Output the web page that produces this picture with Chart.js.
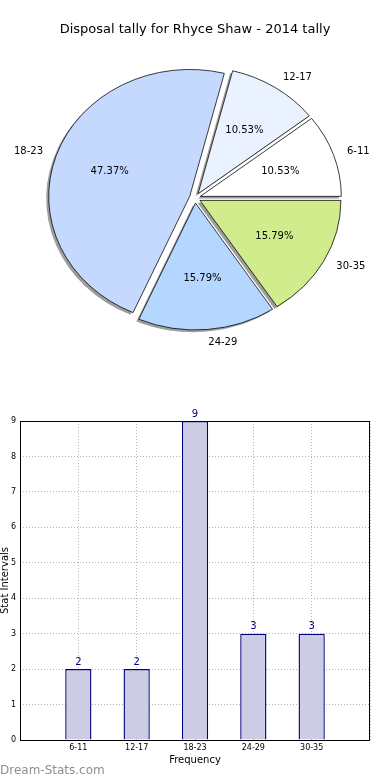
<!DOCTYPE html>
<html lang="en">
<head>
    <meta charset="UTF-8">
    <title>Disposal tally for Rhyce Shaw - 2014 tally</title>
    <script src="https://cdn.jsdelivr.net/npm/chart.js"></script>
    <style>
        body { margin: 0; background: #fff; }
        canvas { display: block; }
    </style>
</head>
<body>
    <canvas id="pieCanvas" width="390" height="390"></canvas>
    <canvas id="barCanvas" width="390" height="390"></canvas>
<script>
    const titulo = 'Disposal tally for Rhyce Shaw - 2014 tally';
    const categorias = ['6-11', '12-17', '18-23', '24-29', '30-35'];
    const valores = [2, 2, 9, 3, 3];
    const coresPizza = ['#ffffff', '#eaf1ff', '#c5d9ff', '#b5d6ff', '#d0ec8c'];
    const ticksY = [0, 1, 2, 3, 4, 5, 6, 7, 8, 9];

    const fonte = "'DejaVu Sans', sans-serif";
    const total = valores.reduce((a, b) => a + b, 0);

    // matplotlib desenha anti-horario a partir do leste, o Chart.js no sentido horario
    const catPizza = categorias.slice().reverse();
    const valPizza = valores.slice().reverse();
    const corPizza = coresPizza.slice().reverse();

    const achatar = 0.9;   // a pizza original sai um pouco eliptica
    const explode = 5.6;

    const pizzaPlugin = {
        id: 'pizzaPlugin',
        beforeDatasetDraw(chart, args) {
            const ctx = chart.ctx;
            const arcos = args.meta.data;
            const cx = arcos[0].x, cy = arcos[0].y;
            ctx.save();
            ctx.translate(cx, cy);
            ctx.scale(1, achatar);
            ctx.translate(-cx, -cy);

            // sombras
            ctx.fillStyle = 'rgba(60,60,60,0.5)';
            arcos.forEach(function (arco) {
                const meio = (arco.startAngle + arco.endAngle) / 2;
                const x = arco.x + Math.cos(meio) * explode - 2.5;
                const y = arco.y + Math.sin(meio) * explode + 2.5;
                ctx.beginPath();
                ctx.moveTo(x, y);
                ctx.arc(x, y, arco.outerRadius, arco.startAngle, arco.endAngle);
                ctx.closePath();
                ctx.fill();
            });

            // fatias deslocadas
            arcos.forEach(function (arco) {
                const meio = (arco.startAngle + arco.endAngle) / 2;
                ctx.save();
                ctx.translate(Math.cos(meio) * explode, Math.sin(meio) * explode);
                arco.draw(ctx);
                ctx.restore();
            });
            ctx.restore();
            return false;
        },
        afterDraw(chart) {
            const ctx = chart.ctx;
            const arcos = chart.getDatasetMeta(0).data;
            ctx.save();
            ctx.fillStyle = '#000';
            ctx.font = '13px ' + fonte;
            ctx.textAlign = 'center';
            ctx.textBaseline = 'middle';
            ctx.fillText(titulo, 195, 30);

            ctx.font = '10px ' + fonte;
            arcos.forEach(function (arco, i) {
                const meio = (arco.startAngle + arco.endAngle) / 2;
                const r = arco.outerRadius;
                const c = Math.cos(meio), s = Math.sin(meio);

                const lx = arco.x + c * (explode + 1.1 * r);
                const ly = arco.y + s * (explode + 1.1 * r) * achatar;
                ctx.textAlign = c > 0 ? 'left' : 'right';
                ctx.fillText(catPizza[i], lx, ly);

                const px = arco.x + c * (explode + 0.6 * r);
                const py = arco.y + s * (explode + 0.6 * r) * achatar;
                ctx.textAlign = 'center';
                ctx.fillText((valPizza[i] / total * 100).toFixed(2) + '%', px, py);
            });
            ctx.restore();
        }
    };

    new Chart(document.getElementById('pieCanvas'), {
        type: 'pie',
        data: {
            labels: catPizza,
            datasets: [{
                data: valPizza,
                backgroundColor: corPizza,
                borderColor: '#000',
                borderWidth: 0.8,
                radius: 141,
                clip: false
            }]
        },
        options: {
            responsive: false,
            animation: false,
            events: [],
            rotation: 90,
            layout: { padding: { left: 20, right: 20, top: 24, bottom: 18 } },
            plugins: { legend: { display: false }, title: { display: false }, tooltip: { enabled: false } }
        },
        plugins: [pizzaPlugin]
    });

    // grafico de barras
    const labelsBarra = [''].concat(categorias, ['']);
    const dadosBarra = [null].concat(valores, [null]);

    const barraPlugin = {
        id: 'barraPlugin',
        afterDraw(chart) {
            const ctx = chart.ctx;
            const a = chart.chartArea;
            ctx.save();
            ctx.strokeStyle = '#000';
            ctx.lineWidth = 1;
            ctx.strokeRect(Math.round(a.left) + 0.5, Math.round(a.top) + 0.5,
                Math.round(a.right - a.left) - 1, Math.round(a.bottom - a.top));

            ctx.fillStyle = '#000080';
            ctx.font = '10px ' + fonte;
            ctx.textAlign = 'center';
            ctx.textBaseline = 'bottom';
            chart.getDatasetMeta(0).data.forEach(function (barra, i) {
                if (dadosBarra[i] === null) return;
                ctx.fillText(String(dadosBarra[i]), barra.x, barra.y - 2);
            });

            ctx.fillStyle = '#000';
            ctx.textBaseline = 'middle';
            ctx.fillText('Frequency', (a.left + a.right) / 2, 370);

            ctx.save();
            ctx.translate(8, (a.top + a.bottom) / 2);
            ctx.rotate(-Math.PI / 2);
            ctx.textBaseline = 'alphabetic';
            ctx.fillText('Stat Intervals', 0, 0);
            ctx.restore();

            ctx.fillStyle = '#8f8f8f';
            ctx.font = '12px ' + fonte;
            ctx.textAlign = 'left';
            ctx.textBaseline = 'middle';
            ctx.fillText('Dream-Stats.com', 0, 381);
            ctx.restore();
        }
    };

    const grade = { color: '#b4b4b4', lineWidth: 1, drawTicks: false, offset: false };

    new Chart(document.getElementById('barCanvas'), {
        type: 'bar',
        data: {
            labels: labelsBarra,
            datasets: [{
                data: dadosBarra,
                backgroundColor: '#ccccE4',
                borderColor: '#000080',
                borderWidth: 1.4,
                barPercentage: 0.45,
                categoryPercentage: 1
            }]
        },
        options: {
            responsive: false,
            animation: false,
            events: [],
            layout: { padding: { left: 0, right: 20, top: 31, bottom: 0 } },
            plugins: { legend: { display: false }, title: { display: false }, tooltip: { enabled: false } },
            scales: {
                x: {
                    offset: false,
                    z: 1,
                    grid: grade,
                    border: { display: false, dash: [1, 2] },
                    ticks: { font: { family: fonte, size: 8 }, color: '#000', padding: 3, maxRotation: 0, autoSkip: false },
                    afterFit(scale) { scale.height = 40; }
                },
                y: {
                    min: 0,
                    max: ticksY[ticksY.length - 1],
                    z: 1,
                    grid: grade,
                    border: { display: false, dash: [1, 2] },
                    afterBuildTicks(scale) { scale.ticks = ticksY.map(v => ({ value: v })); },
                    ticks: { font: { family: fonte, size: 8 }, color: '#000', padding: 4 },
                    afterFit(scale) { scale.width = 20; }
                }
            }
        },
        plugins: [barraPlugin]
    });
</script>
</body>
</html>
